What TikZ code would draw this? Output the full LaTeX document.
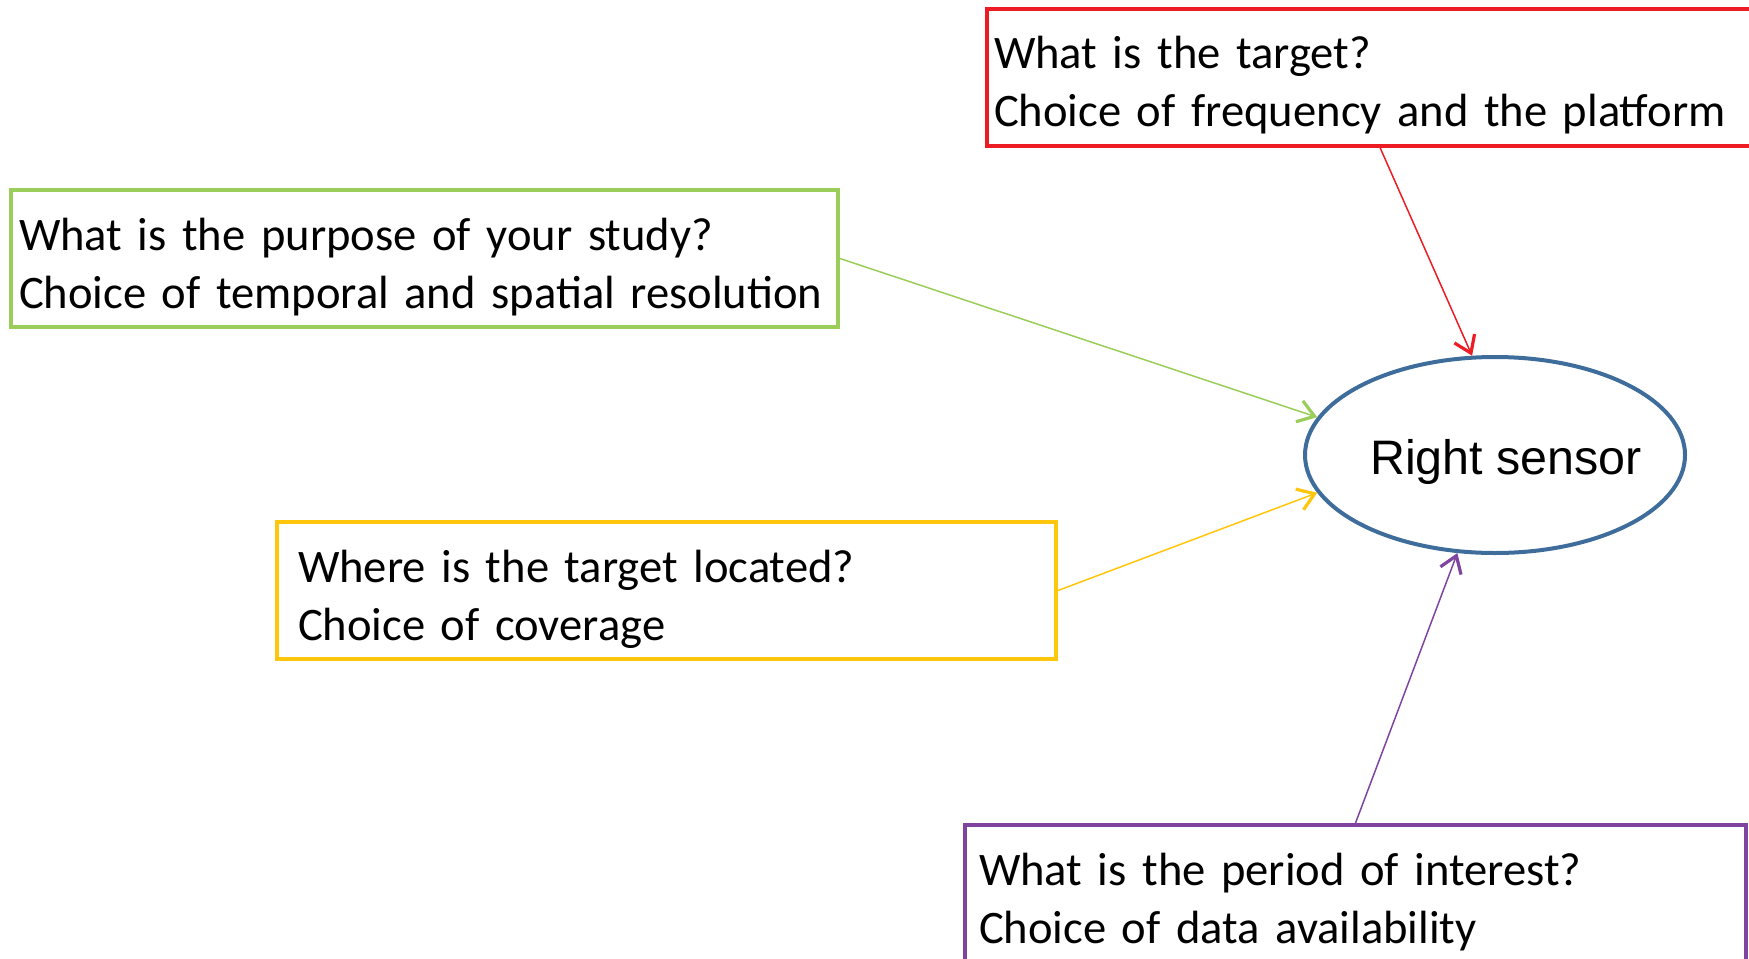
\documentclass[tikz,border=0pt]{standalone}
\usepackage{fontspec}
\setmainfont{Carlito}
\newfontfamily\arialfont{Liberation Sans}
\usepackage{xcolor}
\usepackage{tikz}
\usetikzlibrary{shapes,arrows.meta,positioning,calc}

\definecolor{qred}{HTML}{ED1C24}
\definecolor{qgreen}{HTML}{9ACD5A}
\definecolor{qyellow}{HTML}{FFC60B}
\definecolor{qpurple}{HTML}{7E44A0}
\definecolor{sblue}{HTML}{3E6D9C}

\hyphenpenalty=10000

\begin{document}
\begin{tikzpicture}[
    x=0.5pt, y=-0.5pt,
    question/.style={rectangle, draw, line width=2pt, align=left, minimum height=68.5pt,
      inner ysep=0pt, font=\fontsize{23.3}{29}\selectfont,
      execute at begin node={\rule{0pt}{24.5pt}}},
    sensor/.style={ellipse, draw=sblue, line width=2pt, minimum width=190pt, minimum height=98pt,
      inner sep=0pt, font=\arialfont\fontsize{24.2}{28}\selectfont},
    arrow/.style={-{Straight Barb[length=8pt, width=11pt, line width=1.6pt]}, line width=0.75pt}
  ]

  \useasboundingbox (0,0) rectangle (1749,958);
  \clip (0,0) rectangle (1749,958);

  \node[sensor] (sensor) at (1495,455) {\makebox[0pt]{\rule{0pt}{24.4pt}\hspace*{11pt}Right sensor}};

  \node[question, draw=qred, text width=386pt, inner xsep=3.5pt] (target) at (1380,77)
    {What is the target?\\Choice of frequency and the platform};
  \node[question, draw=qgreen, text width=405.5pt, inner xsep=4pt] (purpose) at (424.5,258.5)
    {What is the purpose of your study?\\Choice of temporal and spatial resolution};
  \node[question, draw=qyellow, text width=368.5pt, inner xsep=10.5pt] (location) at (666.5,590.5)
    {Where is the target located?\\Choice of coverage};
  \node[question, draw=qpurple, text width=376.5pt, inner xsep=7pt] (period) at (1355.5,893.5)
    {What is the period of interest?\\Choice of data availability};

  \draw[arrow, qred] (target.south) -- (sensor.103);
  \draw[arrow, qgreen] (purpose.east) -- (sensor.168);
  \draw[arrow, qyellow] (location.east) -- (sensor.192);
  \draw[arrow, qpurple] (period.north) -- (sensor.249);

\end{tikzpicture}
\end{document}
